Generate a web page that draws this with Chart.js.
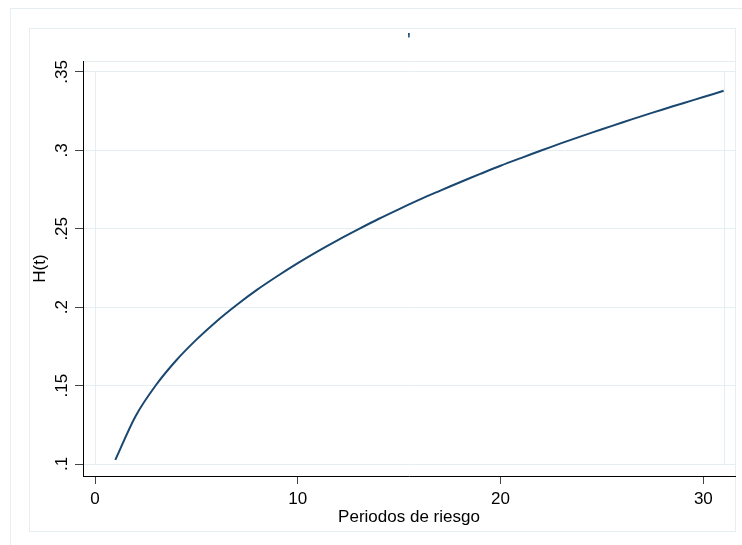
<!DOCTYPE html>
<html>
<head>
<meta charset="utf-8">
<script src="https://cdn.jsdelivr.net/npm/chart.js@4.4.0/dist/chart.umd.min.js"></script>
<style>
  html, body { margin: 0; padding: 0; background: #fff; }
</style>
</head>
<body>
<canvas id="hazardChart" width="742" height="545"></canvas>
<script>
// Cumulative hazard H(t) over risk periods
const periods = [1, 2, 3, 4, 5, 6, 7, 8, 9, 10, 11, 12, 13, 14, 15, 16,
                 17, 18, 19, 20, 21, 22, 23, 24, 25, 26, 27, 28, 29, 30, 31];
const hazard = [0.1026, 0.1305, 0.1502, 0.1660, 0.1793, 0.1911, 0.2016, 0.2112,
                0.2199, 0.2281, 0.2358, 0.2430, 0.2498, 0.2564, 0.2626, 0.2686,
                0.2742, 0.2797, 0.2850, 0.2902, 0.2951, 0.2999, 0.3046, 0.3091,
                0.3135, 0.3178, 0.3220, 0.3261, 0.3301, 0.3340, 0.3380];

const xTicks = [0, 10, 20, 30];
const yTicks = [0.1, 0.15, 0.2, 0.25, 0.3, 0.35];
const yTickLabels = ['.1', '.15', '.2', '.25', '.3', '.35'];
const xFrame = [0, 31];

const titleText = "'";
const xTitle = 'Periodos de riesgo';
const yTitle = 'H(t)';

const FONT = "'Liberation Sans', Arial, sans-serif";
const LINE_COLOR = '#1a476f';
const FAINT = '#e6eef1';

// Region outlines, inner frame, rotated y labels and the title mark
const stataFrame = {
    id: 'stataFrame',
    beforeDraw(chart) {
        const ctx = chart.ctx;
        const area = chart.chartArea;
        ctx.save();
        ctx.strokeStyle = FAINT;
        ctx.lineWidth = 1;
        ctx.strokeRect(10.5, 8.5, 760, 560);
        ctx.strokeRect(29.5, 28.5, 706, 503);
        ctx.beginPath();
        ctx.moveTo(area.left, area.top + 0.5);
        ctx.lineTo(area.right + 1, area.top + 0.5);
        ctx.stroke();
        ctx.restore();
    },
    beforeDatasetsDraw(chart) {
        const ctx = chart.ctx;
        const xs = chart.scales.x;
        const ys = chart.scales.y;
        const top = ys.getPixelForValue(yTicks[yTicks.length - 1]);
        const bottom = ys.getPixelForValue(yTicks[0]);
        ctx.save();
        ctx.strokeStyle = FAINT;
        ctx.lineWidth = 1;
        xFrame.forEach(v => {
            const px = Math.round(xs.getPixelForValue(v)) + 0.5;
            ctx.beginPath();
            ctx.moveTo(px, top);
            ctx.lineTo(px, bottom);
            ctx.stroke();
        });
        ctx.restore();
    },
    afterDraw(chart) {
        const ctx = chart.ctx;
        const ys = chart.scales.y;
        ctx.save();
        ctx.fillStyle = '#000';
        ctx.font = '17px ' + FONT;
        ctx.textAlign = 'center';
        ctx.textBaseline = 'middle';
        ys.ticks.forEach((t, i) => {
            const py = ys.getPixelForValue(t.value);
            ctx.save();
            ctx.translate(62, py);
            ctx.rotate(-Math.PI / 2);
            ctx.fillText(yTickLabels[i], 0, 0);
            ctx.restore();
        });
        ctx.fillStyle = LINE_COLOR;
        ctx.font = '20px ' + FONT;
        ctx.textBaseline = 'alphabetic';
        ctx.fillText(titleText, 409, 47);
        ctx.restore();
    }
};

const ctx = document.getElementById('hazardChart');

new Chart(ctx, {
    type: 'line',
    data: {
        labels: periods,
        datasets: [{
            label: yTitle,
            data: periods.map((p, i) => ({ x: p, y: hazard[i] })),
            borderColor: LINE_COLOR,
            borderWidth: 2,
            pointRadius: 0,
            tension: 0.3,
            fill: false
        }]
    },
    options: {
        responsive: false,
        animation: false,
        devicePixelRatio: 1,
        layout: {
            padding: { top: 61, right: 7, left: 0, bottom: 0 }
        },
        plugins: {
            legend: { display: false },
            tooltip: { enabled: false },
            title: { display: false }
        },
        scales: {
            x: {
                type: 'linear',
                min: -0.592,
                max: 31.56,
                afterBuildTicks: (scale) => {
                    scale.ticks = xTicks.map(v => ({ value: v }));
                },
                afterFit: (scale) => { scale.height = 69; },
                grid: {
                    drawOnChartArea: false,
                    tickLength: 8,
                    tickColor: '#444'
                },
                border: { color: '#000', width: 1 },
                ticks: {
                    color: '#000',
                    font: { family: FONT, size: 17 },
                    padding: 5,
                    maxRotation: 0,
                    autoSkip: false
                },
                title: {
                    display: true,
                    text: xTitle,
                    color: '#000',
                    font: { family: FONT, size: 17 },
                    padding: { top: 0, bottom: 17 }
                }
            },
            y: {
                type: 'linear',
                min: 0.09235,
                max: 0.3570,
                afterBuildTicks: (scale) => {
                    scale.ticks = yTicks.map(v => ({ value: v }));
                },
                afterFit: (scale) => { scale.width = 83; },
                grid: {
                    color: FAINT,
                    lineWidth: 1,
                    tickLength: 8,
                    tickColor: '#444'
                },
                border: { color: '#000', width: 1 },
                ticks: { display: false },
                title: {
                    display: true,
                    text: yTitle,
                    color: '#000',
                    font: { family: FONT, size: 17 },
                    padding: { top: 30, bottom: 0 }
                }
            }
        }
    },
    plugins: [stataFrame]
});
</script>
</body>
</html>
